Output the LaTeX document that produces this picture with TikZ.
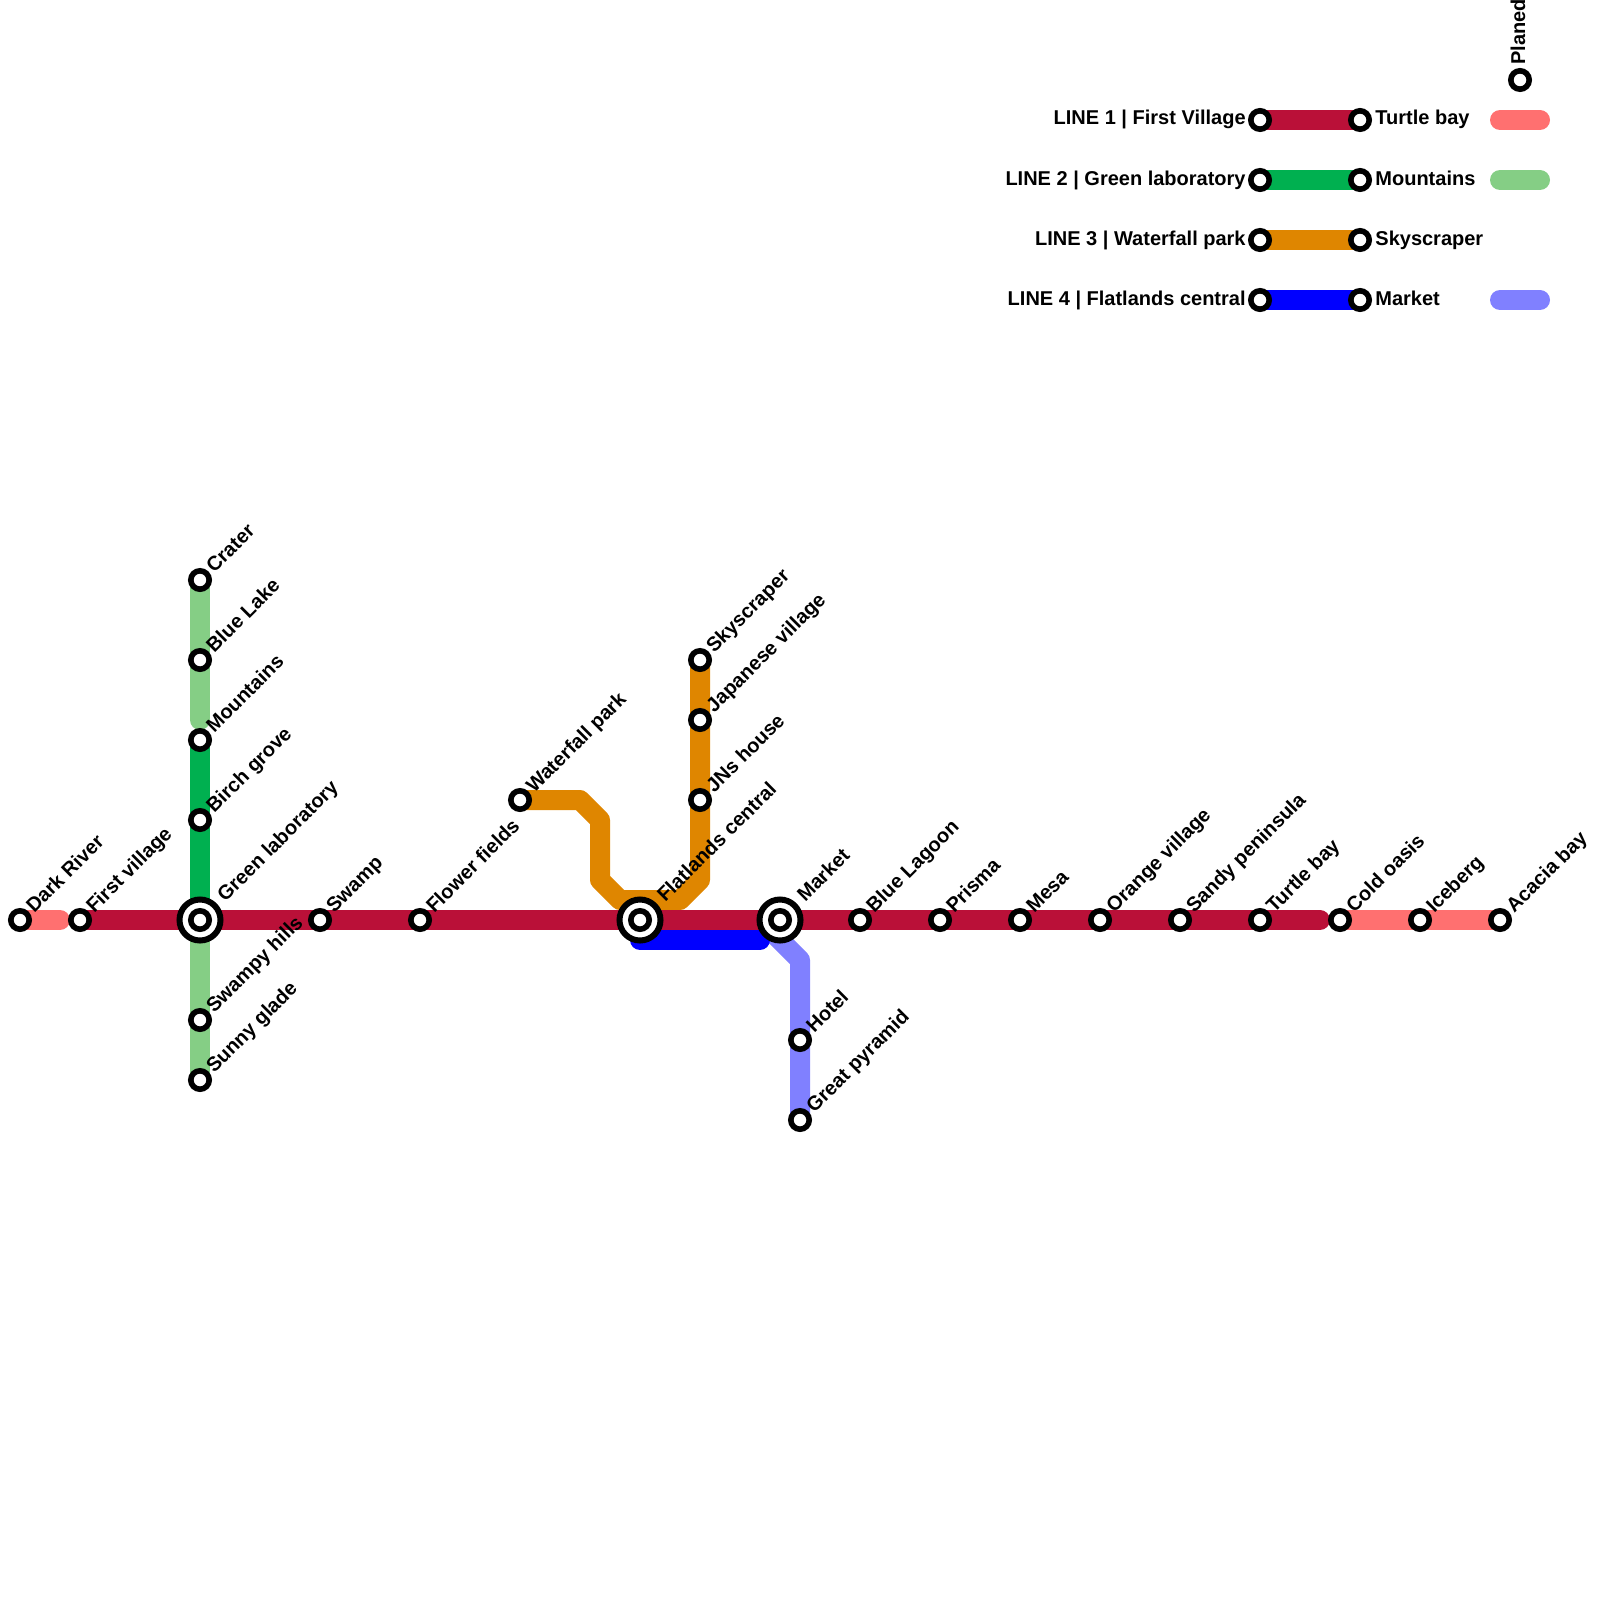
\documentclass[tikz,border=0pt]{standalone}
\usepackage{fontspec}
\setmainfont{Liberation Sans}
\usetikzlibrary{positioning}
\usetikzlibrary{calc}
\usetikzlibrary{backgrounds}

\definecolor{lineone}{HTML}{BA1038}
\definecolor{linetwo}{HTML}{00B050}
\definecolor{linethree}{HTML}{DF8600}
\definecolor{linefour}{HTML}{0000FF}
\definecolor{planone}{HTML}{FF7070}
\definecolor{plantwo}{HTML}{85CE85}
\definecolor{planfour}{HTML}{8080FF}

\tikzset{
  stop/.style={circle, draw=black, fill=white, line width=2.8pt, minimum size=9.2pt, inner sep=0pt},
  hub/.style={circle, draw=black, fill=white, line width=3pt, minimum size=20.5pt, inner sep=0pt},
  track/.style={line width=10pt, line cap=round, line join=round},
  lbl/.style={font=\bfseries\fontsize{10}{12}\selectfont, inner sep=0pt},
  slanted/.style={lbl, rotate=45, anchor=base west}
}

\begin{document}
\begin{tikzpicture}[x=0.5pt, y=-0.5pt]
  \useasboundingbox (0,0) rectangle (1600,1600);

	% interchanges
	\foreach \x/\y/\name in {200/920/labhub, 640/920/flathub, 780/920/markethub}{
		\node[hub] (\name) at (\x,\y) {};
	}

	% stops on the lines
	\foreach \x/\y/\name/\txt in {20/920/dark/Dark River, 80/920/first/First village,
		320/920/swamp/Swamp, 420/920/flower/Flower fields, 860/920/lagoon/Blue Lagoon,
		940/920/prisma/Prisma, 1020/920/mesa/Mesa, 1100/920/orange/Orange village,
		1180/920/sandy/Sandy peninsula, 1260/920/turtle/Turtle bay, 1340/920/cold/Cold oasis,
		1420/920/iceberg/Iceberg, 1500/920/acacia/Acacia bay,
		200/580/crater/Crater, 200/660/lake/Blue Lake, 200/740/mount/Mountains,
		200/820/birch/Birch grove, 200/1020/hills/Swampy hills, 200/1080/glade/Sunny glade,
		520/800/fall/Waterfall park, 700/660/sky/Skyscraper, 700/720/japan/Japanese village,
		700/800/house/JNs house, 800/1040/hotel/Hotel, 800/1120/pyramid/Great pyramid}{
		\node[stop] (\name) at (\x,\y) {};
		\node[slanted] (\name txt) at ($(\name)+(14,-6)$) {\txt};
	}
	\foreach \x/\y/\name/\txt in {200/920/lab/Green laboratory, 640/920/flat/Flatlands central,
		780/920/market/Market}{
		\node[stop] (\name) at (\x,\y) {};
		\node[slanted] (\name txt) at ($(\name)+(25,-17)$) {\txt};
	}

	% legend
	\foreach \y/\name/\ltxt/\rtxt in {120/a/LINE 1 | First Village/Turtle bay,
		180/b/LINE 2 | Green laboratory/Mountains,
		240/c/LINE 3 | Waterfall park/Skyscraper,
		300/d/LINE 4 | Flatlands central/Market}{
		\node[stop] (\name l) at (1260,\y) {};
		\node[stop] (\name r) at (1360,\y) {};
		\node[lbl, anchor=base east] (\name ltxt) at ($(\name l)+(-14,5)$) {\ltxt};
		\node[lbl, anchor=base west] (\name rtxt) at ($(\name r)+(15,5)$) {\rtxt};
	}
	\node[stop] (planed) at (1520,80) {};
	\node[lbl, rotate=90, anchor=base west] (planedtxt) at ($(planed)+(5,-15)$) {Planed};

	\coordinate (darkend) at (60,920);
	\coordinate (redend) at (1320,920);
	\coordinate (greenend) at (200,720);
	\coordinate (bendA) at (580,800);
	\coordinate (bendB) at (600,820);
	\coordinate (bendC) at (600,880);
	\coordinate (bendD) at (620,900);
	\coordinate (bendE) at (680,900);
	\coordinate (bendF) at (700,880);
	\coordinate (blueA) at (760,940);
	\coordinate (blueB) at (640,940);
	\coordinate (violetA) at (760,920);
	\coordinate (violetB) at (800,960);
	\coordinate (pillaL) at (1500,120);
	\coordinate (pillaR) at (1540,120);
	\coordinate (pillbL) at (1500,180);
	\coordinate (pillbR) at (1540,180);
	\coordinate (pilldL) at (1500,300);
	\coordinate (pilldR) at (1540,300);

	\begin{scope}[on background layer]
		\draw[track, plantwo] (crater.center) -- (greenend);
		\draw[track, plantwo] (lab.center) -- (glade.center);
		\draw[track, planone] (dark.center) -- (darkend);
		\draw[track, planone] (cold.center) -- (acacia.center);
		\draw[track, planfour] (violetA) -- (violetB) -- (pyramid.center);
		\draw[track, linefour] (blueB) -- (blueA);
		\draw[track, linethree] (fall.center) -- (bendA) -- (bendB) -- (bendC) -- (bendD) -- (bendE) -- (bendF) -- (sky.center);
		\draw[track, linetwo] (mount.center) -- (lab.center);
		\draw[track, lineone] (first.center) -- (redend);

		\draw[track, lineone] (al.center) -- (ar.center);
		\draw[track, linetwo] (bl.center) -- (br.center);
		\draw[track, linethree] (cl.center) -- (cr.center);
		\draw[track, linefour] (dl.center) -- (dr.center);
		\draw[track, planone] (pillaL) -- (pillaR);
		\draw[track, plantwo] (pillbL) -- (pillbR);
		\draw[track, planfour] (pilldL) -- (pilldR);
	\end{scope}

\end{tikzpicture}
\end{document}
